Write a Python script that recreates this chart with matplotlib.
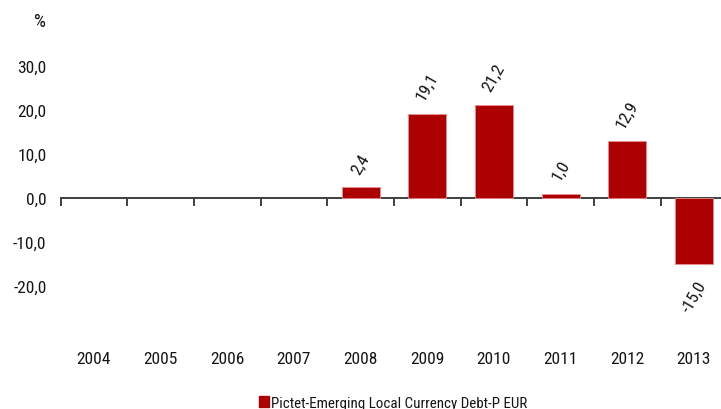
import matplotlib
matplotlib.use("Agg")
import matplotlib.pyplot as plt
from matplotlib.patches import Patch
import numpy as np

years = ["2004", "2005", "2006", "2007", "2008", "2009", "2010", "2011", "2012", "2013"]
values = [np.nan, np.nan, np.nan, np.nan, 2.4, 19.1, 21.2, 1.0, 12.9, -15.0]
value_labels = ["", "", "", "", "2,4", "19,1", "21,2", "1,0", "12,9", "-15,0"]
yticks = [-20, -10, 0, 10, 20, 30]
ytick_labels = ["-20,0", "-10,0", "0,0", "10,0", "20,0", "30,0"]
series_name = "Pictet-Emerging Local Currency Debt-P EUR"

FONT = ["Roboto Condensed", "DejaVu Sans"]
plt.rcParams["font.family"] = FONT
TXT = "#151515"
BAR = "#AD0000"
FS = 12.5

fig = plt.figure(figsize=(7.21, 4.10), dpi=100)
ax = fig.add_axes([60.5/721, 1 - 331/410, 660.5/721, (331 - 23)/410])

x = np.arange(len(years))
ax.bar(x, values, width=0.57, color=BAR, edgecolor="#E89090", linewidth=0.6, zorder=3)

for xi, v, lab in zip(x, values, value_labels):
    if not lab:
        continue
    if v >= 0:
        ax.annotate(lab, (xi, v), xytext=(0, 8), textcoords="offset points",
                    ha="center", va="bottom", rotation=60, fontsize=FS, color=TXT)
    else:
        ax.annotate(lab, (xi, v), xytext=(0, -10), textcoords="offset points",
                    ha="center", va="top", rotation=60, fontsize=FS, color=TXT)

for s in ["top", "right", "left"]:
    ax.spines[s].set_visible(False)
ax.spines["bottom"].set_position(("data", 0))
ax.spines["bottom"].set_color("#404040")
ax.spines["bottom"].set_linewidth(1.4)

ax.set_xticks(x)
ax.set_xticklabels(years, fontsize=FS, color=TXT)
ax.set_xticks(np.arange(-0.5, len(years), 1.0), minor=True)
ax.tick_params(axis="x", which="major", length=0, pad=110)
ax.tick_params(axis="x", which="minor", length=6, width=1.4, color="#404040", direction="out")

ax.set_yticks(yticks)
ax.set_yticklabels(ytick_labels, fontsize=FS, color=TXT)
ax.tick_params(axis="y", length=0, pad=10)

ax.set_xlim(-0.5, -0.5 + 660.5/66.67)
ax.set_ylim(-30, 40)

fig.text(40/721, 1 - 22/410, "%", ha="center", va="center", fontsize=FS + 1, color=TXT)

fig.legend(handles=[Patch(facecolor=BAR, edgecolor=BAR)], labels=[series_name],
           loc="center", bbox_to_anchor=(0.545, 1 - 404/410), frameon=False,
           fontsize=10.8, handlelength=0.72, handleheight=0.72, handletextpad=0.12,
           labelcolor=TXT)

fig.savefig("out.png", dpi=100, facecolor="white")
